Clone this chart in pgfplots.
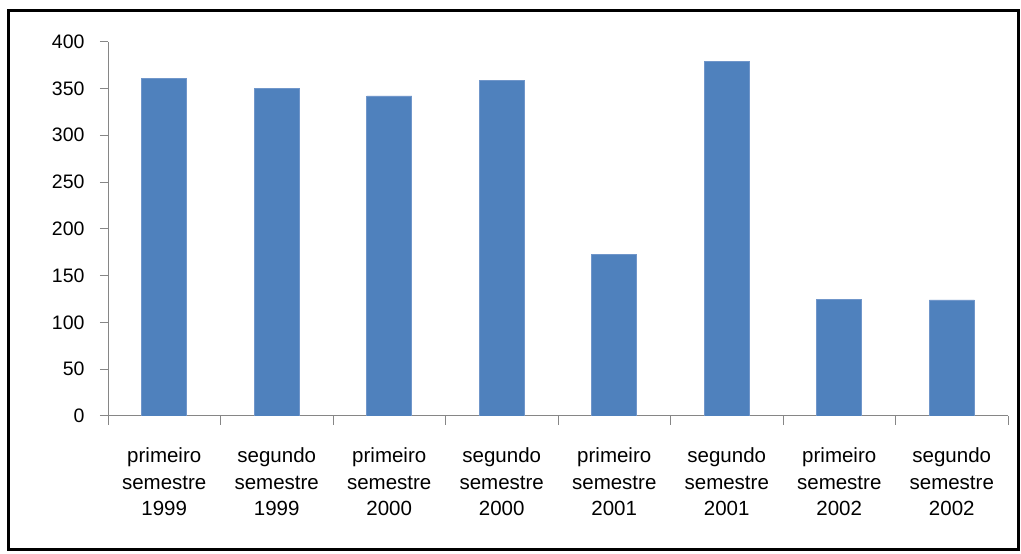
\documentclass[border=0pt]{standalone}
\usepackage{pgfplots}
\pgfplotsset{compat=1.18}
\usepackage{fontspec}
\setmainfont{Liberation Sans}
\definecolor{barblue}{HTML}{4F81BD}
\definecolor{baredge}{HTML}{7096CA}
\definecolor{axgray}{HTML}{868686}
\begin{document}
\begin{tikzpicture}[x=1pt,y=1pt]
\useasboundingbox (0,0) rectangle (1021,554);
\draw[black, line width=3pt] (8,4) rectangle (1018.5,543);
\begin{axis}[
  at={(108pt,138pt)}, anchor=south west,
  scale only axis, width=900pt, height=374.3pt,
  xmin=-0.5, xmax=7.5, ymin=0, ymax=400,
  axis x line*=bottom, axis y line*=left,
  axis line style={axgray, line width=1pt},
  ytick={0,50,...,400},
  xtick={0,...,7},
  xticklabels={{primeiro\\semestre\\1999},{segundo\\semestre\\1999},{primeiro\\semestre\\2000},{segundo\\semestre\\2000},{primeiro\\semestre\\2001},{segundo\\semestre\\2001},{primeiro\\semestre\\2002},{segundo\\semestre\\2002}},
  major x tick style={draw=none},
  minor xtick={-0.5,0.5,...,7.5},
  minor x tick style={axgray, line width=1pt},
  minor tick length=9pt,
  major tick length=8pt,
  y tick style={axgray, line width=1pt},
  tick align=outside,
  xticklabel style={align=center, font=\fontsize{20.5}{26.7}\selectfont, yshift=-20pt},
  yticklabel style={font=\fontsize{19.5}{21}\selectfont, xshift=-12pt},
  /pgf/number format/assume math mode=true,
]
\addplot[ybar, bar width=0.4, fill=barblue, draw=baredge, line width=0.8pt] coordinates {
 (0,361) (1,350) (2,342) (3,358.5) (4,173) (5,379) (6,125) (7,124)
};
\end{axis}
\end{tikzpicture}
\end{document}
